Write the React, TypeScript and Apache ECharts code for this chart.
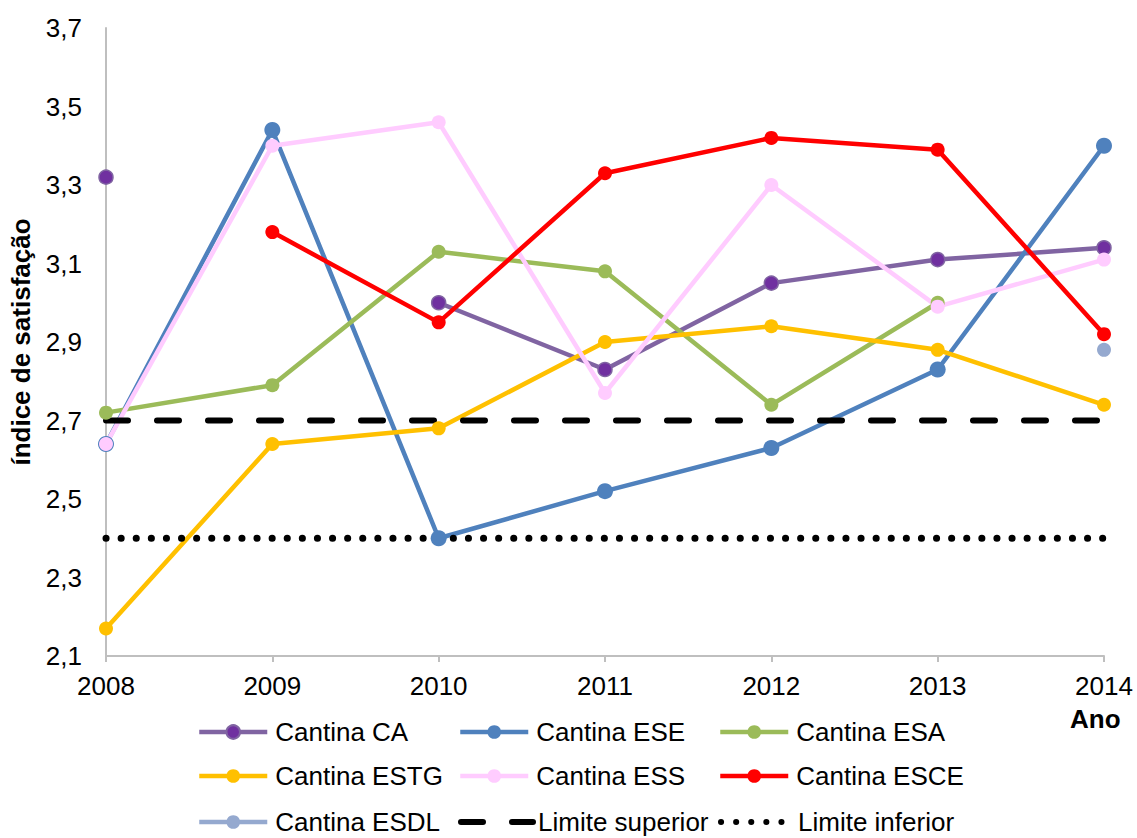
import React, { useEffect, useRef } from "react";
import * as echarts from "echarts";

const years = ["2008", "2009", "2010", "2011", "2012", "2013", "2014"];
const cantinaCA = [3.32, null, 3.0, 2.83, 3.05, 3.11, 3.14];
const cantinaESE = [2.64, 3.44, 2.4, 2.52, 2.63, 2.83, 3.4];
const cantinaESA = [2.72, 2.79, 3.13, 3.08, 2.74, 3.0, null];
const cantinaESTG = [2.17, 2.64, 2.68, 2.9, 2.94, 2.88, 2.74];
const cantinaESS = [2.64, 3.4, 3.46, 2.77, 3.3, 2.99, 3.11];
const cantinaESCE = [null, 3.18, 2.95, 3.33, 3.42, 3.39, 2.92];
const cantinaESDL = [null, null, null, null, null, null, 2.88];
const limiteSuperior = [2.7, 2.7, 2.7, 2.7, 2.7, 2.7, 2.7];
const limiteInferior = [2.4, 2.4, 2.4, 2.4, 2.4, 2.4, 2.4];

const legendGrid = [
  ["Cantina CA", "Cantina ESE", "Cantina ESA"],
  ["Cantina ESTG", "Cantina ESS", "Cantina ESCE"],
  ["Cantina ESDL", "Limite superior", "Limite inferior"],
];

const FONT = "'Liberation Sans', Arial, sans-serif";
const FS = 26;

function lineSeries(name: string, data: (number | null)[], line: string, fill: string, size: number, border?: string) {
  return {
    name,
    type: "line",
    data,
    symbol: "circle",
    symbolSize: size,
    showSymbol: true,
    connectNulls: false,
    lineStyle: { color: line, width: 4.5 },
    itemStyle: { color: fill, borderColor: border || fill, borderWidth: border ? 1.5 : 0 },
  };
}

export default function App() {
  const ref = useRef<HTMLDivElement>(null);
  useEffect(() => {
    if (!ref.current) return;
    const chart = echarts.init(ref.current, undefined, { renderer: "svg" });
    const colLeft = [197, 458, 718];
    const rowCenter = [734, 778, 824];
    const legends: any[] = [];
    legendGrid.forEach((row, r) =>
      row.forEach((name, c) => {
        const isLimit = name.startsWith("Limite");
        const lg: any = {
          left: colLeft[c],
          top: rowCenter[r] - 15,
          itemWidth: isLimit ? 72 : 68,
          itemHeight: isLimit ? 14 : 17,
          data: [name],
          selectedMode: false,
          padding: 0,
          textStyle: { fontSize: FS, color: "#000", fontFamily: FONT, padding: [0, 0, 0, isLimit ? 0 : 3] },
        };
        if (isLimit) {
          lg.lineStyle = { width: 6 };
          lg.itemStyle = { opacity: 0, color: "rgba(0,0,0,0)", borderWidth: 0 };
        } else {
          lg.lineStyle = { width: 4.5 };
        }
        legends.push(lg);
      })
    );
    chart.setOption({
      animation: false,
      backgroundColor: "#fff",
      grid: { left: 106, right: 33, top: 28, bottom: 182, containLabel: false, outerBoundsMode: "none" },
      xAxis: {
        type: "category",
        data: years,
        boundaryGap: false,
        axisLine: { lineStyle: { color: "#BFBFBF", width: 2 } },
        axisTick: { show: true, length: 6, lineStyle: { color: "#BFBFBF", width: 2 } },
        axisLabel: { fontSize: FS, color: "#000", fontFamily: FONT, margin: 17 },
        splitLine: { show: false },
      },
      yAxis: {
        type: "value",
        min: 2.1,
        max: 3.7,
        interval: 0.2,
        name: "índice de satisfação",
        nameLocation: "middle",
        nameRotate: 90,
        nameGap: 72,
        nameTextStyle: { fontSize: FS, fontWeight: "bold", color: "#000", fontFamily: FONT },
        axisLine: { show: true, lineStyle: { color: "#BFBFBF", width: 2 } },
        axisTick: { show: false },
        splitLine: { show: false },
        axisLabel: {
          fontSize: FS,
          color: "#000",
          fontFamily: FONT,
          margin: 24,
          formatter: (v: number) => v.toFixed(1).replace(".", ","),
        },
      },
      legend: legends,
      graphic: [
        {
          type: "text",
          left: 1070,
          top: 706,
          style: { text: "Ano", fontSize: FS, fontWeight: "bold", fill: "#000", fontFamily: FONT },
        },
      ],
      series: [
        lineSeries("Cantina CA", cantinaCA, "#8064A2", "#7030A0", 14, "#8064A2"),
        lineSeries("Cantina ESE", cantinaESE, "#4F81BD", "#4F81BD", 16),
        lineSeries("Cantina ESA", cantinaESA, "#9BBB59", "#9BBB59", 14),
        lineSeries("Cantina ESTG", cantinaESTG, "#FFC000", "#FFC000", 14),
        lineSeries("Cantina ESS", cantinaESS, "#FFCCFF", "#FFCCFF", 14),
        lineSeries("Cantina ESCE", cantinaESCE, "#FF0000", "#FF0000", 14),
        lineSeries("Cantina ESDL", cantinaESDL, "#95A9CF", "#95A9CF", 14),
        {
          name: "Limite superior",
          type: "line",
          data: limiteSuperior,
          symbol: "none",
          lineStyle: { color: "#000", width: 6, type: [22, 29], cap: "round" },
          itemStyle: { color: "#000" },
        },
        {
          name: "Limite inferior",
          type: "line",
          data: limiteInferior,
          symbol: "none",
          lineStyle: { color: "#000", width: 7, type: [0.1, 15], cap: "round" },
          itemStyle: { color: "#000" },
        },
      ],
    });
    return () => chart.dispose();
  }, []);
  return (
    <div
      ref={ref}
      style={{ position: "fixed", left: 0, top: 0, width: 1137, height: 838, background: "#fff" }}
    />
  );
}
